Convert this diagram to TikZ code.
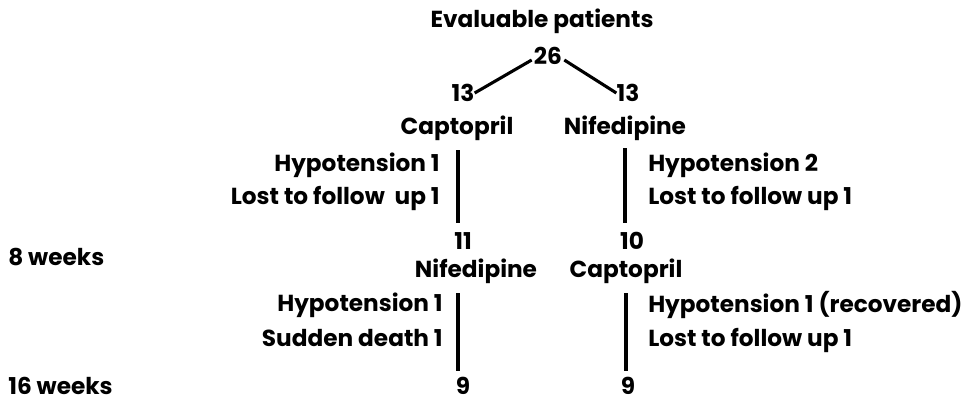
\documentclass[tikz,border=0pt]{standalone}
\usepackage{fontspec}
\setmainfont{Poppins}
\begin{document}
\begin{tikzpicture}[x=0.025cm,y=-0.025cm,
    lab/.style={font=\fontsize{16.5}{18}\selectfont\bfseries,inner sep=0pt},
    lefttxt/.style={lab,anchor=east},
    righttxt/.style={lab,anchor=west},
    trunk/.style={line width=2.2pt}]
  \useasboundingbox (0,0) rectangle (974,408);
  \draw
    (542,21) node[lab] (title){Evaluable patients}
    (548,56) node[lab] (all){26}
    (463,93) node[lab] (grpA){13}
    (628,93) node[lab] (grpB){13}
    (457,128) node[lab] (capA){Captopril}
    (625,128) node[lab] (nifB){Nifedipine}
    (463,241) node[lab] (weekA){11}
    (632,241) node[lab] (weekB){10}
    (476,271) node[lab] (nifA){Nifedipine}
    (626,271) node[lab] (capB){Captopril}
    (463,386) node[lab] (endA){9}
    (628,386) node[lab] (endB){9};
  \draw
    (440,165) node[lefttxt] (hypA){Hypotension 1}
    (440,198) node[lefttxt] (lostA){Lost to follow\ \ up 1}
    (648,165) node[righttxt] (hypB){Hypotension 2}
    (648,198) node[righttxt] (lostB){Lost to follow up 1}
    (443,305) node[lefttxt] (hypC){Hypotension 1}
    (443,338) node[lefttxt] (deathC){Sudden death 1}
    (648,305) node[righttxt] (hypD){Hypotension 1 (recovered)}
    (648,340) node[righttxt] (lostD){Lost to follow up 1}
    (8,257) node[righttxt] (wk8){8 weeks}
    (8,386) node[righttxt] (wk16){16 weeks};
  % split and follow-up lines
  \coordinate (topA) at (458,150);
  \coordinate (botA) at (458,223);
  \coordinate (topB) at (625,148);
  \coordinate (botB) at (625,223);
  \coordinate (topC) at (458,293);
  \coordinate (botC) at (458,371);
  \coordinate (topD) at (626,293);
  \coordinate (botD) at (626,371);
  \begin{scope}[trunk]
    \draw (all.west) ++(-2,4) coordinate (splitA) -- (grpA.east);
    \draw (all.east) ++(2,4) coordinate (splitB) -- (grpB.west);
    \draw (topA) -- (botA);
    \draw (topB) -- (botB);
    \draw (topC) -- (botC);
    \draw (topD) -- (botD);
  \end{scope}
\end{tikzpicture}
\end{document}
